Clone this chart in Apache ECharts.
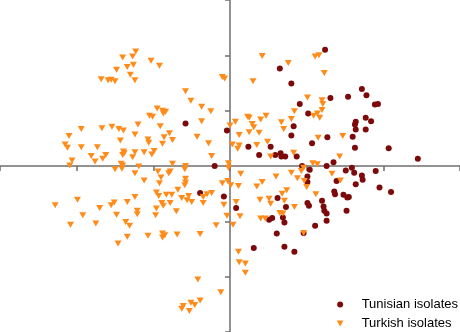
<!DOCTYPE html>
<html>
<head>
<meta charset="utf-8">
<script src="https://cdn.jsdelivr.net/npm/echarts@6/dist/echarts.min.js"></script>
<style>html,body{margin:0;padding:0;background:#fff;}#c{width:460px;height:332px;}</style>
</head>
<body>
<div id="c"></div>
<script>
var seriesNames = ['Tunisian isolates', 'Turkish isolates'];
var xTicks = [-3, -2, -1, 0, 1, 2, 3];
var yTicks = [-3, -2, -1, 0, 1, 2, 3];

var tunisian = [
[1.24,2.10],[0.65,1.76],[0.80,1.49],[1.72,1.39],[1.78,1.28],[1.54,1.25],[1.31,1.23],[0.91,1.12],[1.89,1.11],[1.93,1.12],
[1.02,0.95],[0.83,0.72],[1.64,0.80],[1.63,0.75],[1.64,0.66],[1.77,0.87],[1.84,0.81],[1.77,0.66],[0.80,0.55],[1.27,0.52],
[1.60,0.53],[1.07,0.41],[0.53,0.35],[0.24,0.35],[1.63,0.33],[2.07,0.32],[2.45,0.13],[0.38,0.20],[0.59,0.20],[0.66,0.23],
[0.67,0.17],[0.72,0.17],[0.87,0.17],[0.94,0.00],[1.26,0.00],[1.35,0.07],[-0.58,0.77],[-0.04,0.64],[-0.20,0.00],[1.04,-0.07],
[1.01,-0.19],[1.01,-0.29],[1.51,-0.08],[1.59,-0.03],[1.62,-0.12],[1.72,-0.17],[1.73,-0.25],[1.90,-0.09],[1.39,-0.27],[1.64,-0.33],
[1.95,-0.39],[2.10,-0.47],[1.36,-0.46],[1.37,-0.51],[1.48,-0.52],[1.53,-0.57],[1.55,-0.56],[0.62,-0.58],[0.08,-0.76],[0.73,-0.74],
[-0.39,-0.49],[-0.08,-0.55],[1.01,-0.67],[1.03,-0.72],[1.20,-0.63],[1.22,-0.73],[1.23,-0.81],[1.26,-0.86],[1.52,-0.81],[0.55,-0.94],
[0.51,-0.97],[0.69,-0.93],[0.71,-1.02],[1.26,-0.99],[1.11,-1.08],[0.61,-1.22],[0.96,-1.21],[0.31,-1.48],[0.71,-1.46],[0.84,-1.55]
];

var turkish = [
[-1.23,2.07],[-1.40,1.96],[-1.27,1.98],[-1.03,1.90],[-0.92,1.81],[-1.34,1.79],[-1.26,1.83],[-1.48,1.74],[-1.30,1.65],[-1.68,1.57],
[-1.59,1.55],[-1.55,1.56],[-1.50,1.53],[-1.24,1.55],[-0.10,1.61],[-0.07,1.58],[-0.58,1.35],[-0.51,1.18],[-0.37,1.07],[-0.25,0.99],
[-0.95,1.04],[-0.88,1.00],[-0.84,0.98],[-0.87,0.95],[-1.05,0.91],[-1.01,0.89],[-0.37,0.81],[-0.91,0.72],[-1.20,0.75],[-1.94,0.67],
[-1.67,0.68],[-1.54,0.71],[-1.45,0.67],[-1.39,0.64],[-2.10,0.54],[-1.24,0.57],[-0.79,0.59],[-0.43,0.53],[-1.43,0.46],[-1.07,0.48],
[-1.06,0.42],[-0.86,0.52],[-0.75,0.47],[-0.28,0.41],[-2.15,0.39],[-2.12,0.33],[-1.94,0.34],[-1.73,0.34],[-0.88,0.40],[-1.39,0.26],
[-1.38,0.23],[-1.40,0.20],[-1.24,0.25],[-1.12,0.25],[-0.99,0.27],[-1.02,0.21],[-1.81,0.18],[-1.62,0.20],[-1.66,0.13],[-1.27,0.16],
[-0.24,0.18],[-2.06,0.10],[-1.76,0.08],[-2.09,0.01],[-1.42,0.04],[-1.40,0.01],[-0.75,0.04],[-0.58,0.00],[-0.59,-0.06],[-1.50,-0.06],
[-1.41,-0.05],[-1.19,-0.01],[-1.24,-0.13],[-1.12,-0.26],[-0.94,-0.10],[-0.80,-0.13],[-0.78,-0.10],[-0.90,-0.21],[-0.92,-0.31],[-0.96,-0.48],
[-0.93,-0.54],[-0.83,-0.52],[-0.76,-0.52],[-0.68,-0.43],[-0.89,-0.67],[-0.87,-0.72],[-0.78,-0.67],[-2.28,-0.71],[-1.99,-0.61],[-1.70,-0.76],
[-1.55,-0.71],[-1.51,-0.66],[-1.34,-0.65],[-1.24,-0.56],[-1.21,-0.81],[-1.21,-0.87],[-1.92,-0.89],[-1.48,-0.88],[-0.96,-0.77],[-0.97,-0.89],
[-0.70,-0.82],[-1.75,-1.04],[-2.08,-1.06],[-1.36,-1.01],[-1.31,-1.08],[-1.34,-1.28],[-1.07,-1.26],[-0.88,-1.22],[-0.85,-1.25],[-0.88,-1.29],
[-0.69,-1.24],[-1.46,-1.40],[-0.39,-1.23],[-0.58,-0.23],[-0.58,-0.30],[-0.59,-0.35],[-0.63,-0.58],[-0.54,-0.54],[-0.56,-0.62],[-0.50,-0.65],
[-0.35,-0.67],[-0.35,-0.56],[-0.30,-0.51],[-0.24,-0.49],[-0.08,-0.70],[-0.10,-0.31],[-0.03,-0.27],[-0.04,-0.90],[-0.18,-1.07],[0.13,-0.91],
[0.04,-1.06],[0.08,-0.65],[0.01,-0.35],[0.11,-0.36],[0.14,-0.14],[-0.02,0.05],[-0.02,-0.03],[0.42,-0.29],[0.35,-0.37],[0.60,-0.19],
[0.80,-0.12],[0.88,-0.22],[0.93,-0.09],[0.96,-0.03],[0.97,-0.27],[1.00,-0.38],[1.33,-0.14],[1.44,-0.26],[1.12,-0.51],[0.68,-0.50],
[0.74,-0.44],[0.84,-0.74],[0.71,-0.63],[0.39,-0.61],[0.51,-0.59],[0.53,-0.68],[0.65,-0.85],[0.69,-0.86],[0.40,-0.95],[0.46,-0.95],
[0.96,-1.21],[0.11,-1.55],[0.12,-1.74],[0.20,-1.76],[0.20,-1.93],[-0.42,-2.05],[-0.12,-2.28],[-0.39,-2.43],[-0.51,-2.47],[-0.46,-2.51],
[-0.61,-2.53],[-0.63,-2.58],[-0.53,-2.62],[0.42,1.99],[0.76,1.86],[1.11,1.98],[1.16,2.00],[1.23,1.68],[0.30,1.53],[1.01,1.24],
[1.20,1.19],[1.21,1.12],[1.20,1.01],[1.14,0.95],[1.09,0.91],[1.17,0.87],[0.84,0.99],[0.80,0.85],[0.67,0.79],[0.70,0.67],
[0.07,0.80],[0.00,0.73],[0.23,0.89],[0.25,0.87],[0.29,0.76],[0.31,0.70],[0.40,0.84],[0.47,0.91],[0.12,0.56],[0.25,0.61],
[0.38,0.60],[0.49,0.44],[0.35,0.38],[0.03,0.39],[0.12,0.37],[0.10,0.31],[0.83,0.24],[1.15,0.51],[1.47,0.54],[1.43,0.17],
[0.53,0.17],[1.08,0.05],[1.14,0.03]
];

var triDown = 'path://M0,0L10,0L5,9Z';
var axisColor = '#6e6e6e';

var chart = echarts.init(document.getElementById('c'), null, {renderer: 'canvas'});
chart.setOption({
  animation: false,
  backgroundColor: '#ffffff',
  textStyle: {fontFamily: 'Liberation Sans, Arial, sans-serif'},
  grid: {left: 0, right: 0, top: 0, bottom: 0, containLabel: false},
  xAxis: {
    type: 'value', min: xTicks[0], max: xTicks[xTicks.length - 1], interval: 1,
    axisLine: {show: true, onZero: true, lineStyle: {color: axisColor, width: 1.5}},
    axisTick: {show: true, inside: false, length: 5, lineStyle: {color: axisColor, width: 1.5}},
    axisLabel: {show: false},
    splitLine: {show: false}
  },
  yAxis: {
    type: 'value', min: yTicks[0], max: yTicks[yTicks.length - 1], interval: 1,
    axisLine: {show: true, onZero: true, lineStyle: {color: axisColor, width: 1.5}},
    axisTick: {show: true, inside: false, length: 5, lineStyle: {color: axisColor, width: 1.5}},
    axisLabel: {show: false},
    splitLine: {show: false}
  },
  legend: {
    orient: 'vertical',
    right: 2, top: 298,
    padding: 0,
    itemGap: 6,
    itemWidth: 33, itemHeight: 6,
    textStyle: {fontSize: 13, color: '#000', fontFamily: 'Liberation Sans, Arial, sans-serif'},
    data: [
      {name: seriesNames[0], icon: 'circle'},
      {name: seriesNames[1], icon: triDown}
    ]
  },
  series: [
    {
      name: seriesNames[0], type: 'scatter', data: tunisian,
      symbol: 'circle', symbolSize: 6,
      itemStyle: {color: '#7d0a0a', opacity: 1}
    },
    {
      name: seriesNames[1], type: 'scatter', data: turkish,
      symbol: triDown, symbolSize: [7, 6],
      itemStyle: {color: '#ff8c1a', opacity: 1}
    }
  ]
});
</script>
</body>
</html>
